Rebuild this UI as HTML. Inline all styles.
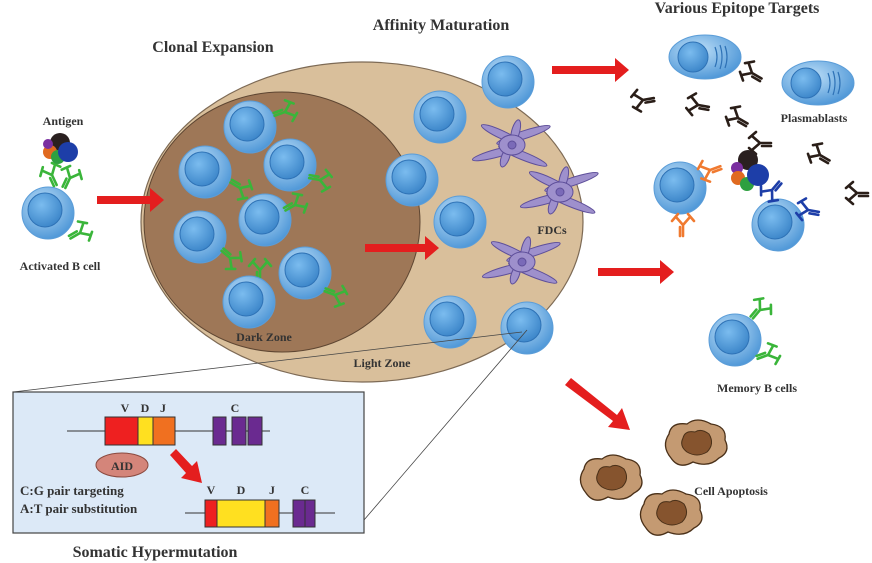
<!DOCTYPE html>
<html><head><meta charset="utf-8"><style>
html,body{margin:0;padding:0;background:#fff;}
svg{display:block;font-family:"Liberation Serif",serif;font-weight:bold;fill:#333;}
</style></head><body>
<svg width="872" height="563" viewBox="0 0 872 563" xmlns="http://www.w3.org/2000/svg">
<defs>
<radialGradient id="cg" cx="40%" cy="35%" r="70%"><stop offset="0" stop-color="#bfe0f8"/><stop offset="1" stop-color="#4a94d6"/></radialGradient>
<radialGradient id="ng" cx="40%" cy="35%" r="70%"><stop offset="0" stop-color="#7bbcef"/><stop offset="1" stop-color="#3a84c8"/></radialGradient>
<g id="cell"><circle r="26" fill="url(#cg)" stroke="#5b9dd8" stroke-width="1"/><circle cx="-3" cy="-3" r="17" fill="url(#ng)" stroke="#2e72b6" stroke-width="1"/></g>
<g id="ab" fill="none" stroke-width="2.6" stroke-linecap="round"><path d="M0,11 L0,0 L-7,-8 M0,0 L7,-8 M-11,-4 L-5,-11 M11,-4 L5,-11 M-3,11 L-3,2"/></g>
<g id="fdc" fill="#9e90cc" stroke="#5e4f9a" stroke-width="1">
<ellipse cx="14" cy="-6" rx="28" ry="4" transform="rotate(-18)"/><ellipse cx="-16" cy="4" rx="26" ry="4" transform="rotate(-15)"/><ellipse cx="14" cy="6" rx="26" ry="4" transform="rotate(22)"/><ellipse cx="-14" cy="-5" rx="22" ry="4" transform="rotate(25)"/><ellipse cx="0" cy="-14" rx="4" ry="12" transform="rotate(15)"/><ellipse cx="-2" cy="14" rx="4" ry="10" transform="rotate(20)"/><ellipse rx="13" ry="10"/><circle r="4" fill="#7a6ab8"/></g>
<g id="pb"><ellipse rx="36" ry="22" fill="url(#cg)" stroke="#5b9dd8"/><circle cx="-12" cy="0" r="15" fill="url(#ng)" stroke="#2e72b6"/><path d="M10,-10 Q14,0 10,10 M15,-12 Q19,0 15,12 M20,-11 Q24,0 20,11" fill="none" stroke="#2e72b6" stroke-width="1.2"/></g>
<g id="apo"><path d="M-28,-8 Q-26,-20 -10,-18 Q0,-26 14,-18 Q30,-16 28,-2 Q34,10 22,16 Q12,26 -4,20 Q-18,28 -26,16 Q-36,4 -28,-8Z" fill="#c49a72" stroke="#4a3018" stroke-width="1.3"/><path d="M-14,-4 Q-12,-12 -2,-10 Q4,-14 12,-8 Q18,2 10,10 Q0,16 -10,10 Q-18,4 -14,-4Z" fill="#86542e" stroke="#4a3018"/></g>
</defs>

<ellipse cx="362" cy="222" rx="221" ry="160" fill="#d9bf9b" stroke="#7d6a55" stroke-width="1.2"/>
<ellipse cx="282" cy="222" rx="138" ry="130" fill="#9e7757" stroke="#5e4632" stroke-width="1"/>

<g fill="#e41e1e">
<path d="M97,196 H150 V188 L164,200 L150,212 V204 H97Z"/>
<path d="M365,244 H425 V236 L439,248 L425,260 V252 H365Z"/>
<path d="M552,66 H615 V58 L629,70 L615,82 V74 H552Z"/>
<path d="M598,268 H660 V260 L674,272 L660,284 V276 H598Z"/>
<path d="M565,385 L571,378 L617,415 L622,408 L630,430 L608,427 L613,421 L565,385Z"/>
</g>

<use href="#ab" stroke="#3ab53a" transform="translate(52,175) rotate(-25)"/>
<use href="#ab" stroke="#3ab53a" transform="translate(70,178) rotate(25)"/>
<use href="#cell" x="48" y="213"/>
<use href="#ab" stroke="#3ab53a" transform="translate(80,233) rotate(60)"/>
<circle cx="60" cy="143" r="10" fill="#2a2020"/>
<circle cx="50" cy="152" r="7" fill="#e06a20"/>
<circle cx="48" cy="144" r="5" fill="#7a2fa0"/>
<circle cx="58" cy="157" r="7" fill="#2ea040"/>
<circle cx="68" cy="152" r="10" fill="#1d3ea8"/>

<use href="#cell" x="250" y="127"/><use href="#ab" stroke="#3ab53a" transform="translate(285,112) rotate(70)"/>
<use href="#cell" x="205" y="172"/><use href="#ab" stroke="#3ab53a" transform="translate(240,188) rotate(120)"/>
<use href="#cell" x="290" y="165"/><use href="#ab" stroke="#3ab53a" transform="translate(320,180) rotate(100)"/>
<use href="#cell" x="265" y="220"/><use href="#ab" stroke="#3ab53a" transform="translate(295,205) rotate(60)"/>
<use href="#cell" x="200" y="237"/><use href="#ab" stroke="#3ab53a" transform="translate(230,258) rotate(130)"/>
<use href="#ab" stroke="#3ab53a" transform="translate(260,270) rotate(0)"/>
<use href="#cell" x="305" y="273"/><use href="#ab" stroke="#3ab53a" transform="translate(335,295) rotate(110)"/>
<use href="#cell" x="249" y="302"/>

<use href="#cell" x="508" y="82"/>
<use href="#cell" x="440" y="117"/>
<use href="#cell" x="412" y="180"/>
<use href="#cell" x="460" y="222"/>
<use href="#cell" x="450" y="322"/>
<use href="#cell" x="527" y="328"/>
<use href="#fdc" x="512" y="145"/>
<use href="#fdc" x="560" y="192"/>
<use href="#fdc" x="522" y="262"/>

<path d="M13,392 L522,332 M364,520 L527,330" stroke="#444" stroke-width="0.8" fill="none"/>

<rect x="13" y="392" width="351" height="141" fill="#dce9f7" stroke="#444" stroke-width="1.2"/>
<g stroke="#333" stroke-width="1">
<line x1="67" y1="431" x2="270" y2="431"/>
<rect x="105" y="417" width="33" height="28" fill="#ee2020"/>
<rect x="138" y="417" width="15" height="28" fill="#ffe020"/>
<rect x="153" y="417" width="22" height="28" fill="#f07020"/>
<rect x="213" y="417" width="13" height="28" fill="#6a2a90"/>
<rect x="232" y="417" width="14" height="28" fill="#6a2a90"/>
<rect x="248" y="417" width="14" height="28" fill="#6a2a90"/>
<line x1="185" y1="513" x2="335" y2="513"/>
<rect x="205" y="500" width="12" height="27" fill="#ee2020"/>
<rect x="217" y="500" width="48" height="27" fill="#ffe020"/>
<rect x="265" y="500" width="14" height="27" fill="#f07020"/>
<rect x="293" y="500" width="12" height="27" fill="#6a2a90"/>
<rect x="305" y="500" width="10" height="27" fill="#6a2a90"/>
<ellipse cx="122" cy="465" rx="26" ry="12" fill="#d4857a" stroke="#8a4a40"/>
</g>
<path d="M170,455 L176,449 L192,466 L197,461 L202,483 L181,478 L186,473Z" fill="#e41e1e"/>
<g font-size="12" text-anchor="middle">
<text x="125" y="412">V</text><text x="145" y="412">D</text><text x="163" y="412">J</text><text x="235" y="412">C</text>
<text x="211" y="494">V</text><text x="241" y="494">D</text><text x="272" y="494">J</text><text x="305" y="494">C</text>
<text x="122" y="470" font-size="12">AID</text>
</g>
<text x="20" y="495" font-size="13">C:G pair targeting</text>
<text x="20" y="513" font-size="13">A:T pair substitution</text>
<text x="155" y="557" font-size="16" text-anchor="middle">Somatic Hypermutation</text>

<use href="#pb" x="705" y="57"/>
<use href="#pb" x="818" y="83"/>
<g stroke="#2a1e18">
<use href="#ab" transform="translate(752,73) rotate(-60)"/>
<use href="#ab" transform="translate(643,100) rotate(-100)"/>
<use href="#ab" transform="translate(698,105) rotate(-80)"/>
<use href="#ab" transform="translate(738,118) rotate(-60)"/>
<use href="#ab" transform="translate(760,143) rotate(-90)"/>
<use href="#ab" transform="translate(820,155) rotate(-60)"/>
<use href="#ab" transform="translate(857,193) rotate(-90)"/>
</g>
<use href="#cell" x="680" y="188"/>
<use href="#cell" x="778" y="225"/>
<use href="#ab" stroke="#f07a30" transform="translate(710,170) rotate(-110)"/>
<use href="#ab" stroke="#f07a30" transform="translate(683,225) rotate(0)"/>
<use href="#ab" stroke="#1d3ea8" transform="translate(772,190) rotate(-140)"/>
<use href="#ab" stroke="#1d3ea8" transform="translate(808,210) rotate(-80)"/>
<circle cx="748" cy="160" r="10" fill="#2a2020"/>
<circle cx="737" cy="168" r="6" fill="#7a2fa0"/>
<circle cx="738" cy="178" r="7" fill="#e06a20"/>
<circle cx="747" cy="184" r="7" fill="#2ea040"/>
<circle cx="758" cy="175" r="11" fill="#1d3ea8"/>
<use href="#cell" x="735" y="340"/>
<use href="#ab" stroke="#3ab53a" transform="translate(760,310) rotate(40)"/>
<use href="#ab" stroke="#3ab53a" transform="translate(768,355) rotate(70)"/>
<use href="#apo" x="612" y="477"/>
<use href="#apo" x="697" y="442"/>
<use href="#apo" x="672" y="512"/>

<g font-size="16" text-anchor="middle">
<text x="213" y="52">Clonal Expansion</text>
<text x="441" y="30">Affinity Maturation</text>
<text x="737" y="13">Various Epitope Targets</text>
</g>
<g font-size="12" text-anchor="middle">
<text x="63" y="125">Antigen</text>
<text x="60" y="270">Activated B cell</text>
<text x="264" y="341">Dark Zone</text>
<text x="382" y="367">Light Zone</text>
<text x="552" y="234">FDCs</text>
<text x="814" y="122">Plasmablasts</text>
<text x="757" y="392">Memory B cells</text>
<text x="731" y="495">Cell Apoptosis</text>
</g>
</svg>
</body></html>
